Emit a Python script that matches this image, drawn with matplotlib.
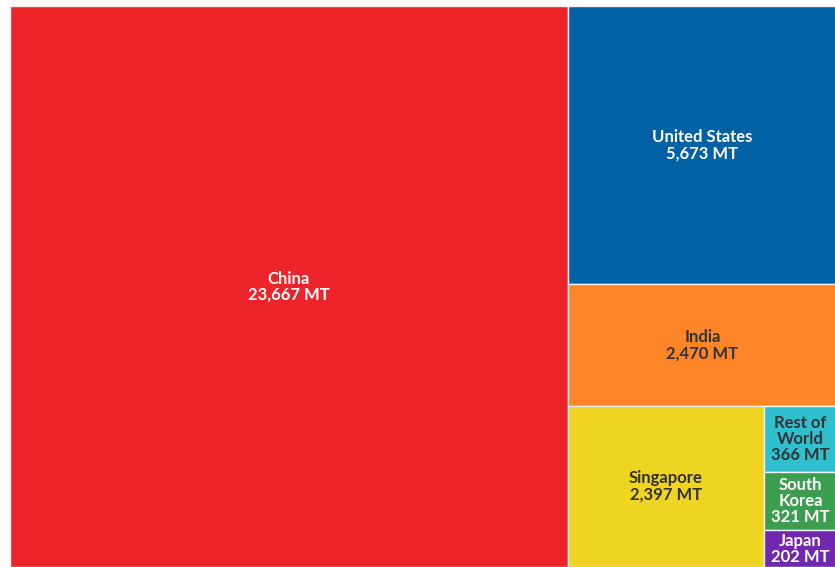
import textwrap
import matplotlib
matplotlib.use("Agg")
import matplotlib.pyplot as plt
from matplotlib.patches import Rectangle

countries = ["China", "United States", "India", "Singapore",
             "Rest of World", "South Korea", "Japan"]
tonnes = [23667, 5673, 2470, 2397, 366, 321, 202]
colors = ["#EC2329", "#0061A5", "#FE8628", "#EFD422",
          "#2FC0CF", "#3C9D4E", "#7228AE"]
text_colors = ["white", "white", "#333333", "#333333",
               "#333333", "white", "white"]


def binary_treemap(values, x0, y0, x1, y1):
    """Balanced binary treemap: split the ordered list where the sums are closest to half."""
    n = len(values)
    sums = [0.0]
    for v in values:
        sums.append(sums[-1] + v)
    rects = [None] * n

    def part(i, j, value, x0, y0, x1, y1):
        if i >= j - 1:
            rects[i] = (x0, y0, x1 - x0, y1 - y0)
            return
        offset = sums[i]
        target = value / 2 + offset
        k, hi = i + 1, j - 1
        while k < hi:
            mid = (k + hi) // 2
            if sums[mid] < target:
                k = mid + 1
            else:
                hi = mid
        if (target - sums[k - 1]) < (sums[k] - target) and i + 1 < k:
            k -= 1
        left = sums[k] - offset
        right = value - left
        if (x1 - x0) > (y1 - y0):
            xk = (x0 * right + x1 * left) / value
            part(i, k, left, x0, y0, xk, y1)
            part(k, j, right, xk, y0, x1, y1)
        else:
            yk = (y0 * right + y1 * left) / value
            part(i, k, left, x0, y0, x1, yk)
            part(k, j, right, x0, yk, x1, y1)

    part(0, n, sums[-1], x0, y0, x1, y1)
    return rects


W, H = 827.0, 561.0
rects = binary_treemap(tonnes, 0, 0, W, H)

fig = plt.figure(figsize=(8.35, 5.67), dpi=100)
ax = fig.add_axes([10 / 835, 0, W / 835, H / 567])
ax.set_xlim(0, W)
ax.set_ylim(H, 0)
ax.axis("off")

for (x, y, w, h), name, val, c, tc in zip(rects, countries, tonnes, colors, text_colors):
    ax.add_patch(Rectangle((x, y), w, h, facecolor=c, edgecolor="#F2F2F2",
                           linewidth=1.0, clip_on=False))
    chars = max(1, int(w / 9.0))
    label = "\n".join(textwrap.wrap(name, chars)) + f"\n{val:,} MT"
    ax.text(x + w / 2, y + h / 2, label, ha="center", va="center",
            color=tc, fontsize=12, fontweight="bold", family="Lato",
            linespacing=1.0, clip_on=False)

fig.savefig("out.png", dpi=100)
